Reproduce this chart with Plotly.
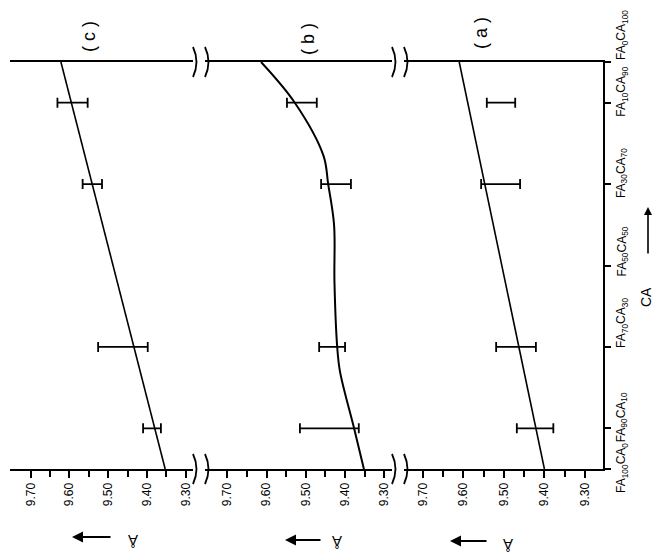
import plotly.graph_objects as go

# ---------------- data ----------------
comp_ticks = [0, 10, 30, 50, 70, 90, 100]
comp_labels = ["FA<sub>100</sub>CA<sub>0</sub>", "FA<sub>90</sub>CA<sub>10</sub>",
               "FA<sub>70</sub>CA<sub>30</sub>", "FA<sub>50</sub>CA<sub>50</sub>",
               "FA<sub>30</sub>CA<sub>70</sub>", "FA<sub>10</sub>CA<sub>90</sub>",
               "FA<sub>0</sub>CA<sub>100</sub>"]
a_ticks = [9.30, 9.40, 9.50, 9.60, 9.70]
a_minor = [9.35, 9.45, 9.55, 9.65]

bar_ca = [10, 30, 70, 90]

c_line_ca = [0, 100]
c_line_a = [9.353, 9.622]
c_mean = [9.387, 9.462, 9.541, 9.592]
c_err = [0.023, 0.064, 0.025, 0.039]

b_curve_ca = [0, 10, 24, 30, 46, 60, 70, 77, 90, 100]
b_curve_a = [9.352, 9.377, 9.413, 9.420, 9.427, 9.428, 9.443, 9.455, 9.528, 9.614]
b_mean = [9.440, 9.433, 9.423, 9.510]
b_err = [0.075, 0.033, 0.038, 0.038]

a_line_ca = [0, 100]
a_line_a = [9.400, 9.610]
a_mean = [9.423, 9.470, 9.508, 9.507]
a_err = [0.045, 0.049, 0.048, 0.035]

panel_names = ["( c )", "( b )", "( a )"]

# ---------------- layout helpers ----------------
# the page body has an 8px margin, so the figure is drawn 8px in from the corner
W, H = 655, 547
L, R, T, B = 2, 60, 54, 86
PW, PH = W - L - R, H - T - B


def px(x):  # reference-image x pixel -> paper fraction
    return (x - 8 - L) / PW


def py(y):  # reference-image y pixel -> paper fraction
    return (H - B - (y - 8)) / PH


FONT = "Liberation Sans, Arial, sans-serif"

fig = go.Figure()

panels = [
    ("x", c_line_ca, c_line_a, c_mean, c_err, "linear"),
    ("x2", b_curve_ca, b_curve_a, b_mean, b_err, "spline"),
    ("x3", a_line_ca, a_line_a, a_mean, a_err, "linear"),
]
for xa, lca, la, m, e, shape in panels:
    fig.add_trace(go.Scatter(x=la, y=lca, xaxis=xa, yaxis="y", mode="lines",
                             line=dict(color="black", width=1.6 if shape == "linear" else 2,
                                       shape=shape, smoothing=1.0),
                             showlegend=False, hoverinfo="skip", cliponaxis=False))
    fig.add_trace(go.Scatter(x=m, y=bar_ca, xaxis=xa, yaxis="y", mode="markers",
                             marker=dict(size=2, color="rgba(0,0,0,0)"),
                             error_x=dict(type="data", array=e, symmetric=True,
                                          color="black", thickness=1.8, width=5),
                             showlegend=False, hoverinfo="skip"))

domains = [[px(10), px(193)], [px(205), px(392)], [px(404), px(603)]]
ranges = [[9.7534, 9.2812], [9.7568, 9.2804], [9.7461, 9.2556]]

common_x = dict(showline=True, linewidth=2, linecolor="black", mirror=True,
                showgrid=False, zeroline=False, ticks="outside", ticklen=7,
                tickwidth=1.5, tickcolor="black", tickvals=a_ticks,
                tickformat=".2f", tickangle=-90,
                tickfont=dict(family=FONT, size=12, color="black"),
                minor=dict(tickvals=a_minor, ticks="outside", ticklen=6,
                           tickwidth=1.5, tickcolor="black", showgrid=False),
                anchor="y", fixedrange=True)

lay = dict(width=W, height=H, margin=dict(l=L, r=R, t=T, b=B, autoexpand=False),
           plot_bgcolor="white", paper_bgcolor="white", showlegend=False,
           yaxis=dict(domain=[0, 1], range=[0, 100], anchor="x3", side="right",
                      showline=True, linewidth=2, linecolor="black",
                      showgrid=False, zeroline=False, tickvals=comp_ticks,
                      ticks="outside", ticklen=6, tickwidth=1.5, tickcolor="black",
                      showticklabels=False, fixedrange=True))
for i, name in enumerate(["xaxis", "xaxis2", "xaxis3"]):
    d = dict(common_x)
    d["domain"] = domains[i]
    d["range"] = ranges[i]
    lay[name] = d
fig.update_layout(**lay)

ann = []
# composition labels on right
label_shift = [1, 11, 24, 14, 11, 11, 27]
for v, t, s in zip(comp_ticks, comp_labels, label_shift):
    ann.append(dict(x=px(622), y=v, xref="paper", yref="y", text=t, textangle=-90,
                    showarrow=False, xanchor="center", yanchor="middle", yshift=s,
                    font=dict(family=FONT, size=12, color="black")))
# CA axis title + arrow
ann.append(dict(x=px(646), y=py(297), xref="paper", yref="paper", text="CA",
                textangle=-90, showarrow=False, xanchor="center", yanchor="middle",
                font=dict(family=FONT, size=14, color="black")))
ann.append(dict(x=px(648), y=py(207), xref="paper", yref="paper", text="",
                showarrow=True, ax=0, ay=48, axref="pixel", ayref="pixel",
                arrowhead=2, arrowsize=1, arrowwidth=1.6, arrowcolor="black"))
# panel labels
for (xp, yp), t in zip([(89, 37), (308, 39), (481, 33)], panel_names):
    ann.append(dict(x=px(xp), y=py(yp), xref="paper", yref="paper", text=t,
                    textangle=-90, showarrow=False, xanchor="center", yanchor="middle",
                    font=dict(family=FONT, size=18, color="black")))
# value-axis titles (Å with arrow), drawn upside-down as in the rotated original
for (hx, tx, ay_), (ax_, ayy) in zip([(72, 112, 537), (285, 322, 540), (450, 488, 541)],
                                     [(133, 541), (337, 542), (508, 545)]):
    ann.append(dict(x=px(hx), y=py(ay_), xref="paper", yref="paper", text="",
                    showarrow=True, ax=tx - hx, ay=0, axref="pixel", ayref="pixel",
                    arrowhead=2, arrowsize=1, arrowwidth=2.2, arrowcolor="black"))
    ann.append(dict(x=px(ax_), y=py(ayy), xref="paper", yref="paper", text="Å",
                    textangle=180, showarrow=False, xanchor="center", yanchor="middle",
                    font=dict(family=FONT, size=15, color="black")))
fig.update_layout(annotations=ann)

# axis-break marks
shapes = []
for bx in [193, 205, 392, 404]:
    for ly in [62, 469]:
        x0 = px(bx)
        y1 = py(ly - 15)
        y2 = py(ly + 15)
        xm = px(bx + 7)
        ym = py(ly)
        shapes.append(dict(type="path", xref="paper", yref="paper",
                           path=f"M {x0},{y1} Q {xm},{ym} {x0},{y2}",
                           line=dict(color="black", width=1.8)))
fig.update_layout(shapes=shapes)

fig.write_html("out.html")
